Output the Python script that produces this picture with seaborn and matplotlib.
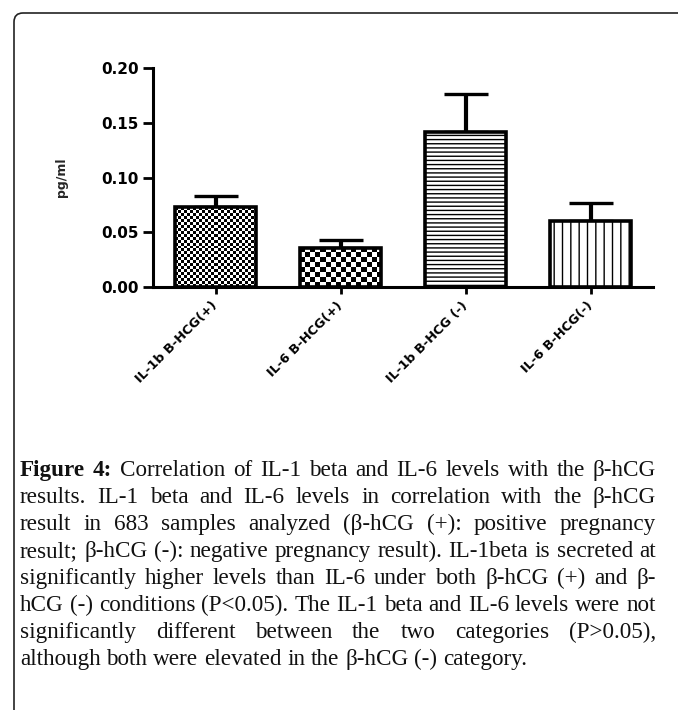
import numpy as np
import matplotlib
matplotlib.use("Agg")
import matplotlib.pyplot as plt
import seaborn as sns
import pandas as pd
from matplotlib.patches import FancyBboxPatch
from matplotlib.transforms import IdentityTransform

# ---------------- data ----------------
categories = ["IL-1b B-HCG(+)", "IL-6 B-HCG(+)", "IL-1b B-HCG (-)", "IL-6 B-HCG(-)"]
means = [0.0728, 0.0359, 0.1413, 0.0606]
errors_upper = [0.0103, 0.0070, 0.0352, 0.0158]
yticks = [0.00, 0.05, 0.10, 0.15, 0.20]
ylabel = "pg/ml"

caption_lines = [
    [("Figure", True), ("4:", True), ("Correlation", False), ("of", False), ("IL-1", False), ("beta", False),
     ("and", False), ("IL-6", False), ("levels", False), ("with", False), ("the", False), ("β-hCG", False)],
    "results. IL-1 beta and IL-6 levels in correlation with the β-hCG",
    "result in 683 samples analyzed (β-hCG (+): positive pregnancy",
    "result; β-hCG (-): negative pregnancy result). IL-1beta is secreted at",
    "significantly higher levels than IL-6 under both β-hCG (+) and β-",
    "hCG (-) conditions (P<0.05). The IL-1 beta and IL-6 levels were not",
    "significantly different between the two categories (P>0.05),",
    "although both were elevated in the β-hCG (-) category.",
]

df = pd.DataFrame({"cat": categories, "val": means})

sns.set_theme(style="white")
plt.rcParams["font.family"] = ["DejaVu Sans"]

W, H = 678, 710
fig = plt.figure(figsize=(W / 100, H / 100), dpi=100)
fig.patch.set_facecolor("white")
ax = fig.add_axes([153 / W, 1 - 287 / H, 500 / W, (287 - 68) / H])

sns.barplot(data=df, x="cat", y="val", order=categories, color="white",
            edgecolor="black", linewidth=2.6, width=0.65, errorbar=None, ax=ax,
            saturation=1)

ax.set_xlim(-0.5, 3.5)
ax.set_ylim(0, 0.20)

plt.rcParams["hatch.linewidth"] = 1.0
patches = list(ax.patches)
for p in patches:
    p.set_facecolor("white")
    p.set_edgecolor("black")
    p.set_zorder(3)
patches[2].set_hatch("----")
patches[3].set_hatch("||")

# checkerboard fills for bars 1 and 2
fig.canvas.draw()
for p, sq in [(patches[0], 3.0), (patches[1], 5.0)]:
    x0, y0 = p.get_x(), p.get_y()
    w, h = p.get_width(), p.get_height()
    (px0, py0) = ax.transData.transform((x0, y0))
    (px1, py1) = ax.transData.transform((x0 + w, y0 + h))
    nx = max(1, int(round((px1 - px0) / sq)))
    ny = max(1, int(round((py1 - py0) / sq)))
    board = (np.add.outer(np.arange(ny), np.arange(nx)) % 2).astype(float)
    im = ax.imshow(board, cmap="gray", vmin=0, vmax=1, extent=(x0, x0 + w, y0, y0 + h),
                   aspect="auto", interpolation="nearest", zorder=2.5)
    im.set_clip_path(p)
    p.set_facecolor("none")

ax.errorbar(x=np.arange(len(categories)), y=means,
            yerr=[np.zeros(len(means)), errors_upper], fmt="none", ecolor="black",
            elinewidth=3.0, capsize=16, capthick=2.4, zorder=2)

sns.despine(ax=ax)
for s in ["left", "bottom"]:
    ax.spines[s].set_linewidth(2.2)
    ax.spines[s].set_color("black")

ax.set_yticks(yticks)
ax.set_yticklabels([f"{v:.2f}" for v in yticks], fontsize=11, fontweight="bold")
ax.tick_params(axis="y", length=7, width=2, pad=3.5, colors="black", left=True)
ax.tick_params(axis="x", length=5, width=2, pad=7, colors="black", bottom=True)
ax.set_xticks(range(len(categories)))
ax.set_xticklabels(categories, rotation=45, ha="right", va="center",
                   rotation_mode="anchor", fontsize=9.3, fontweight="bold")
ax.set_xlabel("")
ax.set_ylabel(ylabel, fontsize=9, fontweight="bold")
ax.yaxis.set_label_coords((68 - 153) / 500, (287 - 177) / 219)

# border (top + left only, rounded corner)
border = FancyBboxPatch((14, -60), 720, H - 13 + 60,
                        boxstyle="round,pad=0,rounding_size=9",
                        transform=IdentityTransform(), fill=False,
                        edgecolor="#222222", linewidth=1.2)
fig.add_artist(border)

# justified caption
renderer = fig.canvas.get_renderer()
cap_font = ["Liberation Serif", "DejaVu Serif"]
x_left, x_right = 20.0, 656.0
baseline0 = 476.0
line_gap = 27.0


def word_width(txt, bold, size):
    t = fig.text(0, 0, txt, fontsize=size, family=cap_font,
                 fontweight="bold" if bold else "normal")
    bb = t.get_window_extent(renderer=renderer)
    t.remove()
    return bb.width


def as_words(line):
    if isinstance(line, str):
        return [(w, False) for w in line.split(" ")]
    return line


# choose size so the densest justified line fits with natural spacing
ref_size = 10.0
sp_ref = word_width("a b", False, ref_size) - word_width("ab", False, ref_size)
scales = []
for line in caption_lines[:-1]:
    words = as_words(line)
    nat = sum(word_width(w, b, ref_size) for w, b in words) + sp_ref * (len(words) - 1)
    scales.append((x_right - x_left) / nat)
cap_size = ref_size * min(scales) * 0.995

for i, line in enumerate(caption_lines):
    words = as_words(line)
    widths = [word_width(w, b, cap_size) for w, b in words]
    ypix = H - (baseline0 + i * line_gap)
    last = i == len(caption_lines) - 1
    if last or len(words) == 1:
        space = word_width("a b", False, cap_size) - word_width("ab", False, cap_size)
    else:
        space = (x_right - x_left - sum(widths)) / (len(words) - 1)
    x = x_left
    for (w, b), wd in zip(words, widths):
        fig.text(x / W, ypix / H, w, fontsize=cap_size, family=cap_font,
                 fontweight="bold" if b else "normal", ha="left", va="baseline",
                 color="#111111")
        x += wd + space

fig.savefig("out.png", dpi=100, facecolor="white")
